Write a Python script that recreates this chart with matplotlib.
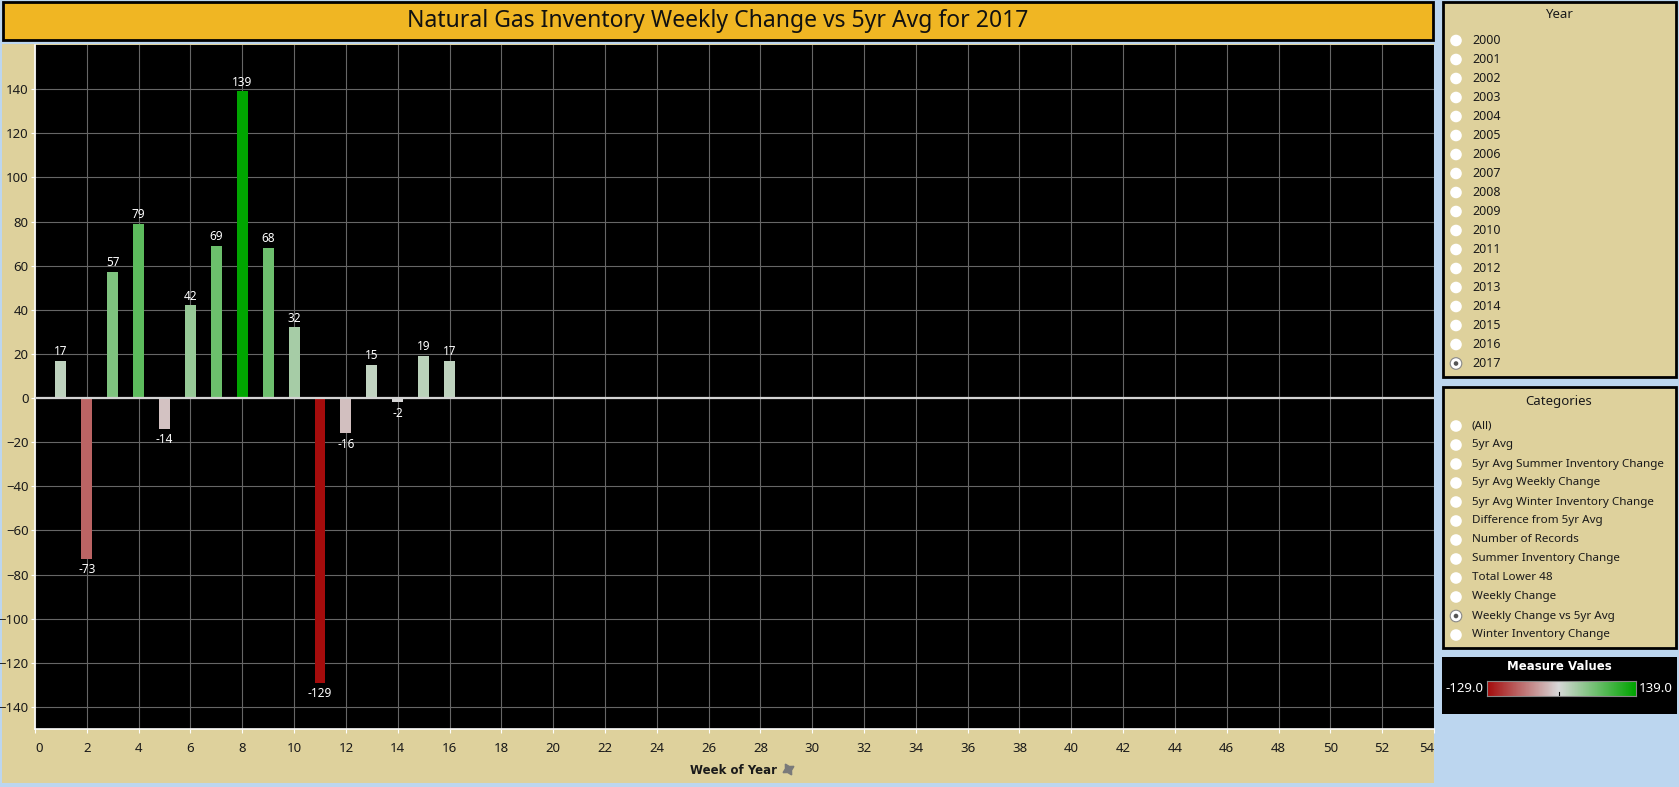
import numpy as np
import matplotlib
matplotlib.use('Agg')
import matplotlib.pyplot as plt
from matplotlib.colors import LinearSegmentedColormap, TwoSlopeNorm
from matplotlib.patches import Rectangle, Circle

plt.rcParams['font.family'] = ['Noto Sans', 'DejaVu Sans']

# data
weeks = [1, 2, 3, 4, 5, 6, 7, 8, 9, 10, 11, 12, 13, 14, 15, 16]
change_vs_5yr = [17, -73, 57, 79, -14, 42, 69, 139, 68, 32, -129, -16, 15, -2, 19, 17]

title = 'Natural Gas Inventory Weekly Change vs 5yr Avg for 2017'
years = [str(y) for y in range(2000, 2018)]
year_selected = '2017'
categories = ['(All)', '5yr Avg', '5yr Avg Summer Inventory Change',
              '5yr Avg Weekly Change', '5yr Avg Winter Inventory Change',
              'Difference from 5yr Avg', 'Number of Records',
              'Summer Inventory Change', 'Total Lower 48', 'Weekly Change',
              'Weekly Change vs 5yr Avg', 'Winter Inventory Change']
category_selected = 'Weekly Change vs 5yr Avg'

vmin, vmax = min(change_vs_5yr), max(change_vs_5yr)

# colours
sky = '#BCD6EF'
beige = '#DED19C'
orange = '#F0B623'
ink = '#1a1a1a'
cmap = LinearSegmentedColormap.from_list('rg', ['#A50C0C', '#D8D8D8', '#00A500'])
norm = TwoSlopeNorm(vmin=vmin, vcenter=0, vmax=vmax)

W, H = 1679, 787
fig = plt.figure(figsize=(W / 100, H / 100), dpi=100, facecolor=sky)

# background layer in pixel coords
bg = fig.add_axes([0, 0, 1, 1], zorder=0)
bg.set_xlim(0, W)
bg.set_ylim(H, 0)
bg.axis('off')
bg.patch.set_alpha(0)

def box(x0, y0, x1, y1, fc, ec=None, lw=0):
    bg.add_patch(Rectangle((x0, y0), x1 - x0, y1 - y0, facecolor=fc,
                           edgecolor=ec if ec else 'none', linewidth=lw))

# chart background + title
box(2, 44, 1434, 783, beige)
box(3, 2, 1433, 40, orange, 'black', 2)
bg.text(718, 21, title, ha='center', va='center', fontsize=16.5, color='#111111')
bg.text(734, 770, 'Week of Year', ha='center', va='center', fontsize=8.5,
        fontweight='bold', family='DejaVu Sans', color=ink)
bg.plot(788, 769, marker=(4, 1, 30), ms=9, color='#7a7a7a')

# Year filter
box(1443, 2, 1676, 377, beige, 'black', 2)
bg.text(1559, 15, 'Year', ha='center', va='center', fontsize=9.5,
        fontweight='medium', color=ink)

def radio(x, y, on):
    bg.add_patch(Circle((x, y), 5.8, facecolor='white',
                        edgecolor='#888888' if on else 'none', linewidth=0.8))
    if on:
        bg.add_patch(Circle((x, y), 2.3, facecolor='#555555', edgecolor='none'))

for i, yr in enumerate(years):
    yy = 40.5 + i * 19.0
    radio(1456, yy, yr == year_selected)
    bg.text(1472, yy, yr, ha='left', va='center', fontsize=9, color=ink)

# Categories filter
box(1443, 387, 1676, 648, beige, 'black', 2)
bg.text(1559, 401, 'Categories', ha='center', va='center', fontsize=9.5,
        fontweight='medium', color=ink)
for i, cat in enumerate(categories):
    yy = 426 + i * 19.0
    radio(1456, yy, cat == category_selected)
    bg.text(1472, yy, cat, ha='left', va='center', fontsize=8.4, color=ink)

# Measure Values legend
box(1442, 657, 1677, 714, 'black')
bg.text(1559, 667, 'Measure Values', ha='center', va='center', fontsize=8.5,
        fontweight='bold', family='DejaVu Sans', color='white')
bg.text(1446, 688, '%.1f' % vmin, ha='left', va='center', fontsize=9.5, color='white')
bg.text(1639, 688, '%.1f' % vmax, ha='left', va='center', fontsize=9.5, color='white')

cb = fig.add_axes([1487 / W, 1 - 696 / H, (1636 - 1487) / W, 15 / H], zorder=2)
grad = np.linspace(vmin, vmax, 300).reshape(1, -1)
cb.imshow(grad, cmap=cmap, norm=norm, aspect='auto', extent=(vmin, vmax, 0, 1))
cb.set_xlim(vmin, vmax)
cb.set_xticks([])
cb.set_yticks([])
for s in cb.spines.values():
    s.set_color('#888888')
    s.set_linewidth(0.8)
cb.plot([0, 0], [0, 0.25], color='black', lw=0.8)

# main chart
ax = fig.add_axes([35 / W, 1 - 729 / H, (1434 - 35) / W, (729 - 45) / H], zorder=1)
ax.set_facecolor('black')
colors = [cmap(norm(v)) for v in change_vs_5yr]
ax.bar(weeks, change_vs_5yr, width=0.42, color=colors, zorder=3)

for x, v in zip(weeks, change_vs_5yr):
    if v >= 0:
        ax.annotate(str(v), (x, v), xytext=(0, 2), textcoords='offset points',
                    ha='center', va='bottom', fontsize=8.5, color='white', zorder=4)
    else:
        ax.annotate(str(v), (x, v), xytext=(0, -3), textcoords='offset points',
                    ha='center', va='top', fontsize=8.5, color='white', zorder=4)

ax.axhline(0, color='#D4D4D4', lw=1.6, zorder=3)
ax.set_xlim(0, 54)
ax.set_ylim(-150, 160)
ax.set_xticks(np.arange(0, 55, 2))
ax.set_yticks(np.arange(-140, 141, 20))
ax.grid(True, color='#666666', lw=0.8, zorder=0)
ax.set_axisbelow(True)
ax.tick_params(colors='white', labelcolor=ink, labelsize=9.5, length=3, width=0.8)
ax.tick_params(axis='y', pad=1.5)
for s in ['top', 'right']:
    ax.spines[s].set_visible(False)
for s in ['left', 'bottom']:
    ax.spines[s].set_color('white')
    ax.spines[s].set_linewidth(1.2)

xlabels = ax.get_xticklabels()
xlabels[0].set_horizontalalignment('left')
xlabels[-1].set_horizontalalignment('right')
for lab in ax.get_xticklabels():
    lab.set_y(-0.006)

fig.savefig('out.png', dpi=100, facecolor=sky)
